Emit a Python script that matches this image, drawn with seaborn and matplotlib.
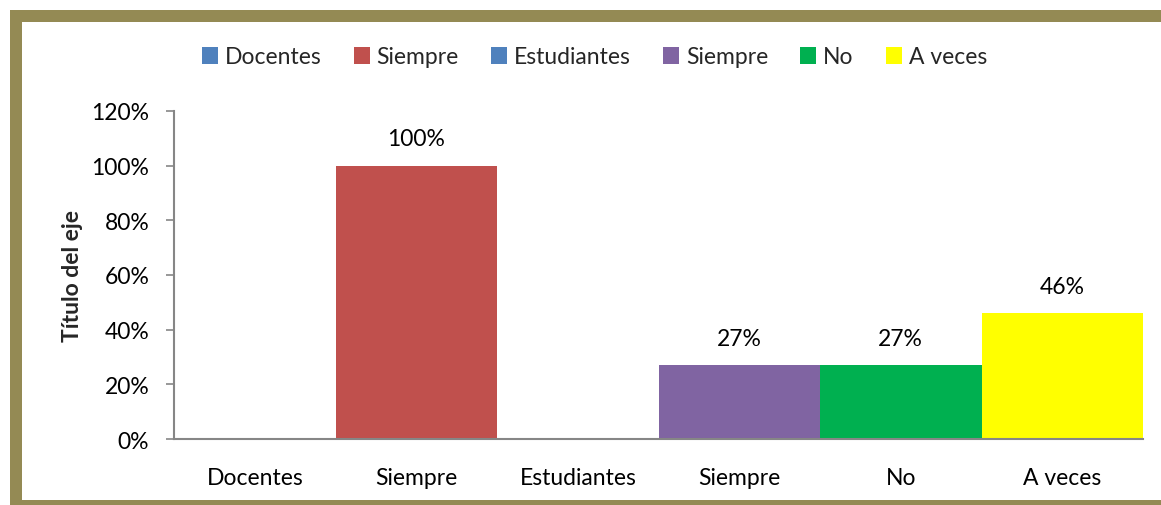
import matplotlib
matplotlib.use("Agg")
import matplotlib.pyplot as plt
from matplotlib.patches import Rectangle, Patch
from matplotlib.ticker import PercentFormatter
import seaborn as sns

categories = ["Docentes", "Siempre", "Estudiantes", "Siempre", "No", "A veces"]
values = [0.0, 1.00, 0.0, 0.27, 0.27, 0.46]
colors = ["#4F81BD", "#C0504D", "#4F81BD", "#8064A2", "#00B050", "#FFFF00"]

sns.set_style("white")
plt.rcParams["font.family"] = ["Lato", "DejaVu Sans"]
fs = 16.5

fig = plt.figure(figsize=(11.61, 5.06), dpi=100)
ax = fig.add_axes([0.150, 0.1304, 0.8345, 0.6483])

pos = list(range(len(categories)))
sns.barplot(x=pos, y=values, hue=pos, palette=colors, width=1.0,
            legend=False, ax=ax, saturation=1, linewidth=0)

ax.set_ylim(0, 1.2)
ax.set_xlim(-0.5, len(categories) - 0.5)
ax.set_yticks([0, 0.2, 0.4, 0.6, 0.8, 1.0, 1.2])
ax.yaxis.set_major_formatter(PercentFormatter(1.0, decimals=0))
ax.set_xticks(pos)
ax.set_xticklabels(categories)
ax.tick_params(axis="both", labelsize=fs, colors="#000000")
ax.tick_params(axis="y", length=6, width=1.2, color="#868686", left=True, pad=12)
ax.tick_params(axis="x", length=0, pad=20)
for s in ["top", "right"]:
    ax.spines[s].set_visible(False)
for s in ["left", "bottom"]:
    ax.spines[s].set_color("#868686")
    ax.spines[s].set_linewidth(1.5)

ax.set_ylabel("Título del eje", fontsize=fs, fontweight="bold", labelpad=6)

for i, v in enumerate(values):
    if v > 0:
        ax.text(i, v + 0.06, f"{round(v * 100)}%", ha="center", va="bottom",
                fontsize=fs, color="#000000")

handles = [Patch(facecolor=c, edgecolor="none") for c in colors]
fig.legend(handles, categories, loc="center", bbox_to_anchor=(0.512, 1 - 58 / 506),
           ncol=6, frameon=False, fontsize=fs, handlelength=0.7, handleheight=0.7,
           handletextpad=0.3, columnspacing=1.4)

frame = "#948A54"
fig.add_artist(Rectangle((10 / 1161, (506 - 23) / 506), 1, 12 / 506,
                         transform=fig.transFigure, color=frame, lw=0))
fig.add_artist(Rectangle((10 / 1161, 0), 12 / 1161, (506 - 11) / 506,
                         transform=fig.transFigure, color=frame, lw=0))
fig.add_artist(Rectangle((10 / 1161, 0), 1, 5 / 506,
                         transform=fig.transFigure, color=frame, lw=0))

fig.savefig("out.png", dpi=100)
